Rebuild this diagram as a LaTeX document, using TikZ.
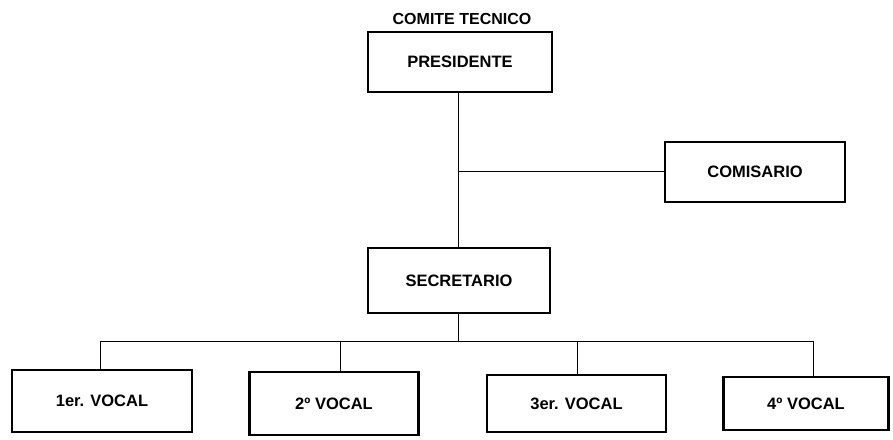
\documentclass[tikz,border=0pt]{standalone}
\usepackage{fontspec}
\setmainfont{Liberation Sans}
\begin{document}
\begin{tikzpicture}[x=1pt,y=-1pt,
  box/.style={draw=black,line width=2.6pt,inner sep=0pt,font=\fontsize{16.5}{19}\selectfont\bfseries},
  conn/.style={draw=black,line width=0.9pt}]
\useasboundingbox[fill=white] (0,0) rectangle (893,439);
\node[box,minimum width=184pt,minimum height=60pt] (pres) at (460,62) {PRESIDENTE};
\node[font=\fontsize{16}{18}\selectfont\bfseries,anchor=south] (title) at (462,28) {COMITE TECNICO};
\node[box,minimum width=180pt,minimum height=60pt] (comi) at (755,172) {COMISARIO};
\node[box,minimum width=182pt,minimum height=65pt] (secr) at (459,280.5) {SECRETARIO};
\node[box,minimum width=180pt,minimum height=62pt] (v1) at (102,401) {1er. VOCAL};
\node[box,minimum width=169pt,minimum height=63pt] (v2) at (334,403.5) {2º VOCAL};
\node[box,minimum width=179pt,minimum height=57pt] (v3) at (576.5,403.5) {3er. VOCAL};
\node[box,minimum width=165pt,minimum height=53pt] (v4) at (806,403.5) {4º VOCAL};
\coordinate (j1) at (458,171);
\coordinate (bus) at (458,341);
\coordinate (b1) at (100,341);
\coordinate (b2) at (340,341);
\coordinate (b3) at (577,341);
\coordinate (b4) at (813,341);
\draw[conn] (458,0 |- pres.south) -- (458,0 |- secr.north);
\draw[conn] (j1) -- (j1 -| comi.west);
\draw[conn] (458,0 |- secr.south) -- (bus);
\draw[conn] (b1) -- (b4);
\draw[conn] (b1) -- (b1 |- v1.north);
\draw[conn] (b2) -- (b2 |- v2.north);
\draw[conn] (b3) -- (b3 |- v3.north);
\draw[conn] (b4) -- (b4 |- v4.north);
\end{tikzpicture}
\end{document}
